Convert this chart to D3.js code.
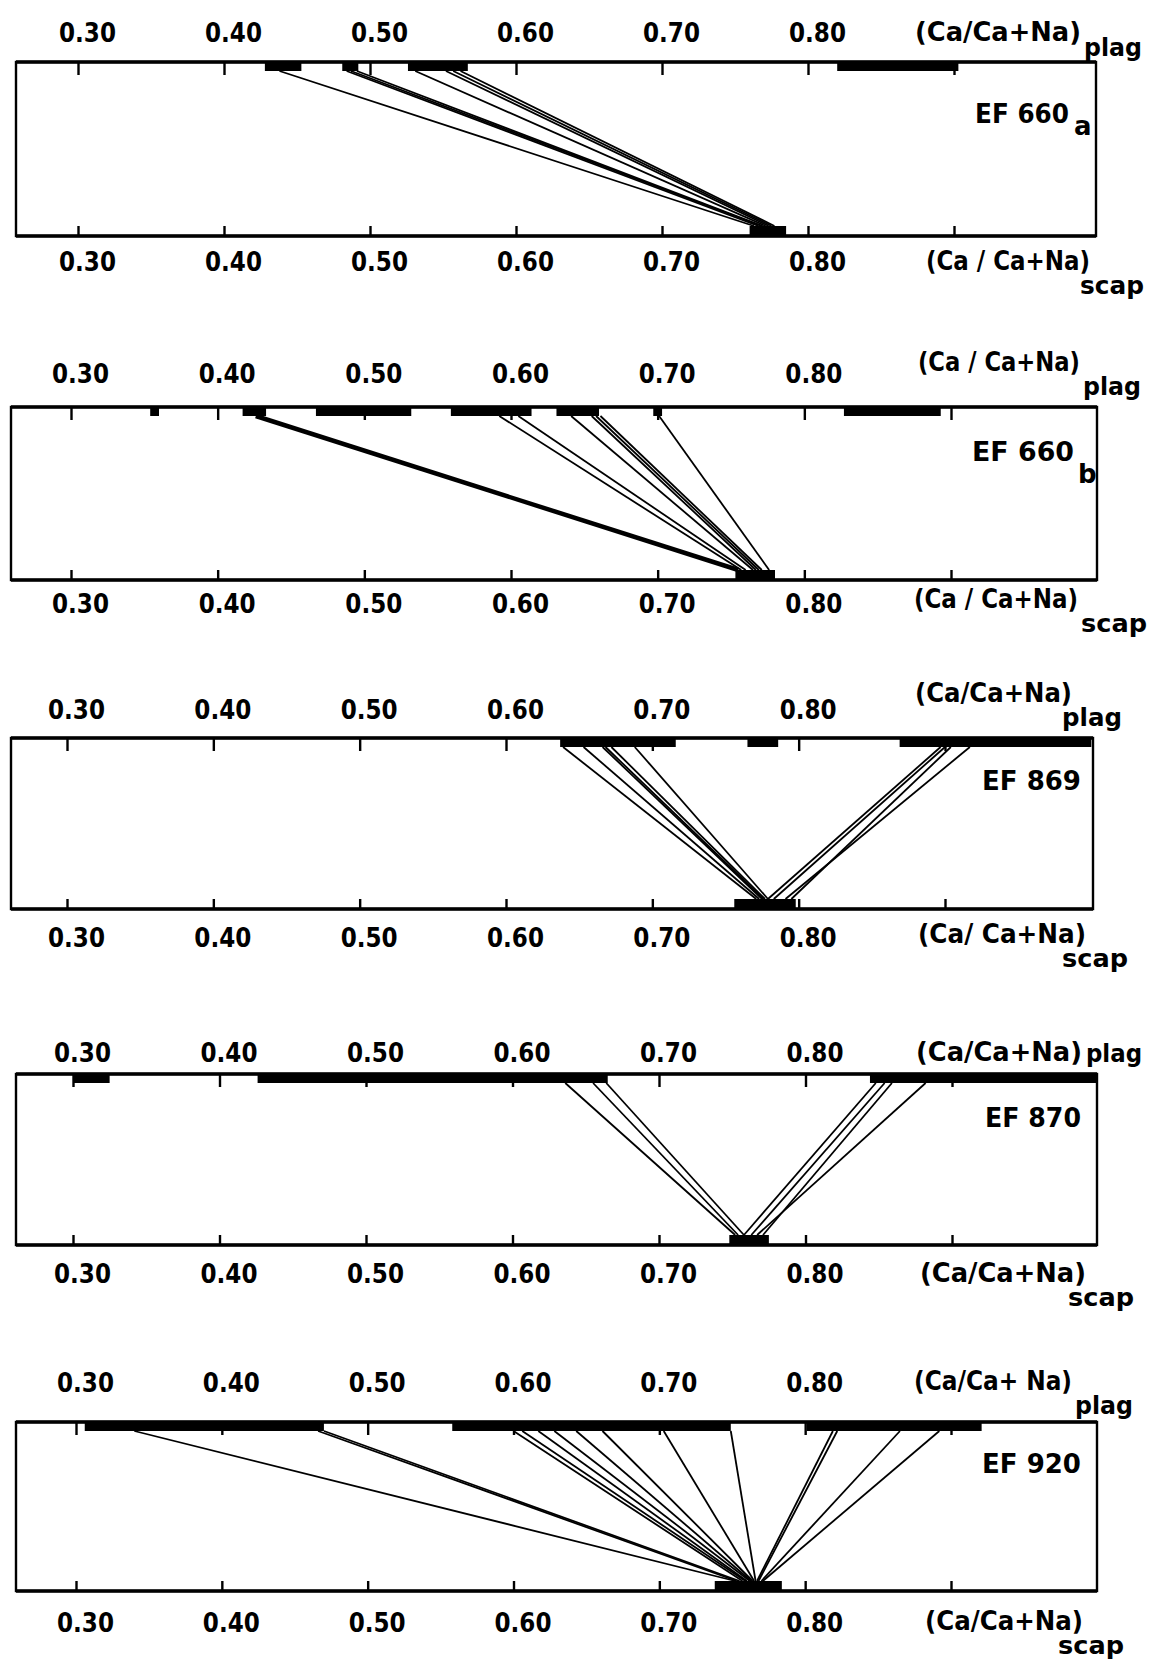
<!DOCTYPE html>
<html><head><meta charset="utf-8">
<script src="https://cdn.jsdelivr.net/npm/d3@7"></script>
<style>body{margin:0;background:#fff} svg{display:block}</style>
</head><body>
<svg id="c" width="1149" height="1663"></svg>
<script>
// ---------- data ----------
const tickValues  = [0.30, 0.40, 0.50, 0.60, 0.70, 0.80, 0.90];
const labelValues = [0.30, 0.40, 0.50, 0.60, 0.70, 0.80];
const sampleNames = ["EF 660", "EF 660", "EF 869", "EF 870", "EF 920"];
const sampleSubs  = ["a", "b", "", "", ""];
const topTitles   = ["(Ca/Ca+Na)", "(Ca / Ca+Na)", "(Ca/Ca+Na)", "(Ca/Ca+Na)", "(Ca/Ca+ Na)"];
const botTitles   = ["(Ca / Ca+Na)", "(Ca / Ca+Na)", "(Ca/ Ca+Na)", "(Ca/Ca+Na)", "(Ca/Ca+Na)"];
const topSubs     = ["plag", "plag", "plag", "plag", "plag"];
const botSubs     = ["scap", "scap", "scap", "scap", "scap"];

// plagioclase composition ranges (top), scapolite ranges (bottom), tie lines [plag, scap]
const plag660a = [[0.428, 0.453], [0.481, 0.492], [0.526, 0.567], [0.820, 0.903]];
const scap660a = [[0.760, 0.785]];
const ties660a = [[0.438, 0.763], [0.484, 0.766], [0.487, 0.768], [0.491, 0.769],
                  [0.531, 0.771], [0.552, 0.773], [0.557, 0.775], [0.562, 0.777]];
const heavy660a = [];

const plag660b = [[0.354, 0.360], [0.417, 0.433], [0.467, 0.532], [0.559, 0.614],
                  [0.631, 0.660], [0.697, 0.703], [0.827, 0.893]];
const scap660b = [[0.753, 0.780]];
const ties660b = [[0.592, 0.757], [0.605, 0.760], [0.641, 0.765], [0.655, 0.767],
                  [0.658, 0.769], [0.661, 0.771], [0.701, 0.776]];
const heavy660b = [[0.426, 0.755]];

const plag869 = [[0.637, 0.716], [0.765, 0.786], [0.869, 1.000]];
const scap869 = [[0.756, 0.798]];
const ties869 = [[0.639, 0.771], [0.653, 0.773], [0.666, 0.775], [0.668, 0.776],
                 [0.672, 0.777], [0.688, 0.779],
                 [0.897, 0.779], [0.900, 0.783], [0.904, 0.795], [0.917, 0.791]];
const heavy869 = [];

const plag870 = [[0.300, 0.325], [0.426, 0.665], [0.844, 1.000]];
const scap870 = [[0.748, 0.775]];
const ties870 = [[0.636, 0.752], [0.655, 0.754], [0.664, 0.758],
                 [0.848, 0.758], [0.854, 0.763], [0.859, 0.771], [0.882, 0.767]];
const heavy870 = [];

const plag920 = [[0.306, 0.470], [0.558, 0.749], [0.801, 0.921]];
const scap920 = [[0.738, 0.784]];
const ties920 = [[0.340, 0.752], [0.466, 0.753], [0.470, 0.755],
                 [0.600, 0.757], [0.606, 0.759], [0.617, 0.760], [0.628, 0.762],
                 [0.643, 0.763], [0.661, 0.764], [0.703, 0.765], [0.749, 0.766],
                 [0.819, 0.767], [0.822, 0.768], [0.865, 0.770], [0.892, 0.771]];
const heavy920 = [];

// ---------- layout (positions only) ----------
const layout = [
  {box:[16,1096,62,236],   x30:78, x90:954, topLab:41.5, botLab:271,
   ttl:[915,41], ttlW:166, tsub:[1084,56], tsubW:58, tsubFS:25,
   bttl:[926,270], bttlW:164, bsub:[1080,294], bsubW:64,
   ef:[975,123], efW:94, efSub:[1074,135]},
  {box:[11,1097,407,580],  x30:71, x90:951, topLab:383, botLab:613,
   ttl:[918,371], ttlW:162, tsub:[1083,395], tsubW:58, tsubFS:25,
   bttl:[914,608], bttlW:164, bsub:[1081,632], bsubW:66,
   ef:[972,461], efW:102, efSub:[1078,483]},
  {box:[11,1093,738,909],  x30:67, x90:945, topLab:719, botLab:947,
   ttl:[915,702], ttlW:157, tsub:[1062,726], tsubW:60, tsubFS:25,
   bttl:[918,943], bttlW:168, bsub:[1062,967], bsubW:66,
   ef:[982,790], efW:99},
  {box:[16,1097,1074,1245], x30:73, x90:952, topLab:1062, botLab:1283,
   ttl:[916,1061], ttlW:166, tsub:[1086,1062], tsubW:56, tsubFS:24,
   bttl:[920,1282], bttlW:166, bsub:[1068,1306], bsubW:66,
   ef:[985,1127], efW:96},
  {box:[16,1097,1422,1591], x30:76, x90:951, topLab:1392, botLab:1632,
   ttl:[914,1390], ttlW:158, tsub:[1075,1414], tsubW:58, tsubFS:25,
   bttl:[925,1630], bttlW:158, bsub:[1058,1654], bsubW:66,
   ef:[982,1473], efW:99}
];
const plagSets  = [plag660a, plag660b, plag869, plag870, plag920];
const scapSets  = [scap660a, scap660b, scap869, scap870, scap920];
const tieSets   = [ties660a, ties660b, ties869, ties870, ties920];
const heavySets = [heavy660a, heavy660b, heavy869, heavy870, heavy920];

const FONT = "'DejaVu Sans', sans-serif";
const FS = 26;
const svg = d3.select("#c");
svg.append("rect").attr("width",1149).attr("height",1663).attr("fill","#fff");

layout.forEach((L, i) => {
  const [bx0, bx1, by0, by1] = L.box;
  const x = d3.scaleLinear().domain([0.30, 0.90]).range([L.x30, L.x90]);
  const cx = v => Math.max(bx0, Math.min(bx1, x(v)));
  const g = svg.append("g");
  const barTop = 9, barBot = 10;

  // bars (plag on top, scap at bottom)
  g.selectAll(".pb").data(plagSets[i]).join("rect")
    .attr("x", d => cx(d[0])).attr("width", d => cx(d[1]) - cx(d[0]))
    .attr("y", by0).attr("height", barTop).attr("fill", "#000");
  g.selectAll(".sb").data(scapSets[i]).join("rect")
    .attr("x", d => cx(d[0])).attr("width", d => cx(d[1]) - cx(d[0]))
    .attr("y", by1 - barBot).attr("height", barBot).attr("fill", "#000");

  // tie lines
  g.selectAll(".tl").data(tieSets[i]).join("line")
    .attr("x1", d => x(d[0])).attr("y1", by0 + barTop)
    .attr("x2", d => x(d[1])).attr("y2", by1 - barBot)
    .attr("stroke", "#000").attr("stroke-width", 1.8);
  g.selectAll(".hl").data(heavySets[i]).join("line")
    .attr("x1", d => x(d[0])).attr("y1", by0 + barTop)
    .attr("x2", d => x(d[1])).attr("y2", by1 - barBot)
    .attr("stroke", "#000").attr("stroke-width", 4.5);

  // box
  g.append("rect").attr("x", bx0).attr("y", by0).attr("width", bx1 - bx0).attr("height", by1 - by0)
    .attr("fill", "none").attr("stroke", "#000").attr("stroke-width", 2.4);
  g.append("line").attr("x1", bx0).attr("x2", bx1).attr("y1", by0).attr("y2", by0)
    .attr("stroke", "#000").attr("stroke-width", 3.5);
  g.append("line").attr("x1", bx0).attr("x2", bx1).attr("y1", by1).attr("y2", by1)
    .attr("stroke", "#000").attr("stroke-width", 3.5);

  // ticks (inside box)
  const tTop = g.append("g").attr("transform", `translate(0,${by0})`)
    .call(d3.axisBottom(x).tickValues(tickValues).tickSize(13).tickFormat(""));
  const tBot = g.append("g").attr("transform", `translate(0,${by1})`)
    .call(d3.axisTop(x).tickValues(tickValues).tickSize(10).tickFormat(""));
  [tTop, tBot].forEach(a => {
    a.select(".domain").remove();
    a.selectAll("line").attr("stroke", "#000").attr("stroke-width", 2.4);
  });

  // tick labels
  const fmt = d3.format(".2f");
  [L.topLab, L.botLab].forEach(yy => {
    const a = g.append("g").attr("transform", `translate(9,${yy})`)
      .call(d3.axisTop(x).tickValues(labelValues).tickSize(0).tickPadding(0).tickFormat(fmt));
    a.select(".domain").remove();
    a.selectAll("text").attr("font-family", FONT).attr("font-weight", "bold")
      .attr("font-size", FS).attr("fill", "#000").attr("dy", 0).attr("y", 0)
      .attr("textLength", 57).attr("lengthAdjust", "spacingAndGlyphs");
  });

  // text with optional subscript as a single text element
  const label = (main, mx, my, mw, sub, sx, sy, sw, sfs) => {
    const t = g.append("text").attr("font-family", FONT).attr("font-weight", "bold")
      .attr("font-size", FS).attr("fill", "#000");
    t.append("tspan").attr("x", mx).attr("y", my).text(main)
      .attr("textLength", mw).attr("lengthAdjust", "spacingAndGlyphs");
    if (sub) {
      const s = t.append("tspan").attr("x", sx).attr("y", sy).text(sub)
        .attr("font-size", sfs || 25);
      if (sw) s.attr("textLength", sw).attr("lengthAdjust", "spacingAndGlyphs");
    }
  };
  label(topTitles[i], L.ttl[0], L.ttl[1], L.ttlW, topSubs[i], L.tsub[0], L.tsub[1], L.tsubW, L.tsubFS);
  label(botTitles[i], L.bttl[0], L.bttl[1], L.bttlW, botSubs[i], L.bsub[0], L.bsub[1], L.bsubW, 25);
  label(sampleNames[i], L.ef[0], L.ef[1], L.efW,
        sampleSubs[i], L.efSub ? L.efSub[0] : 0, L.efSub ? L.efSub[1] : 0, null, FS);
});
</script>
</body></html>
